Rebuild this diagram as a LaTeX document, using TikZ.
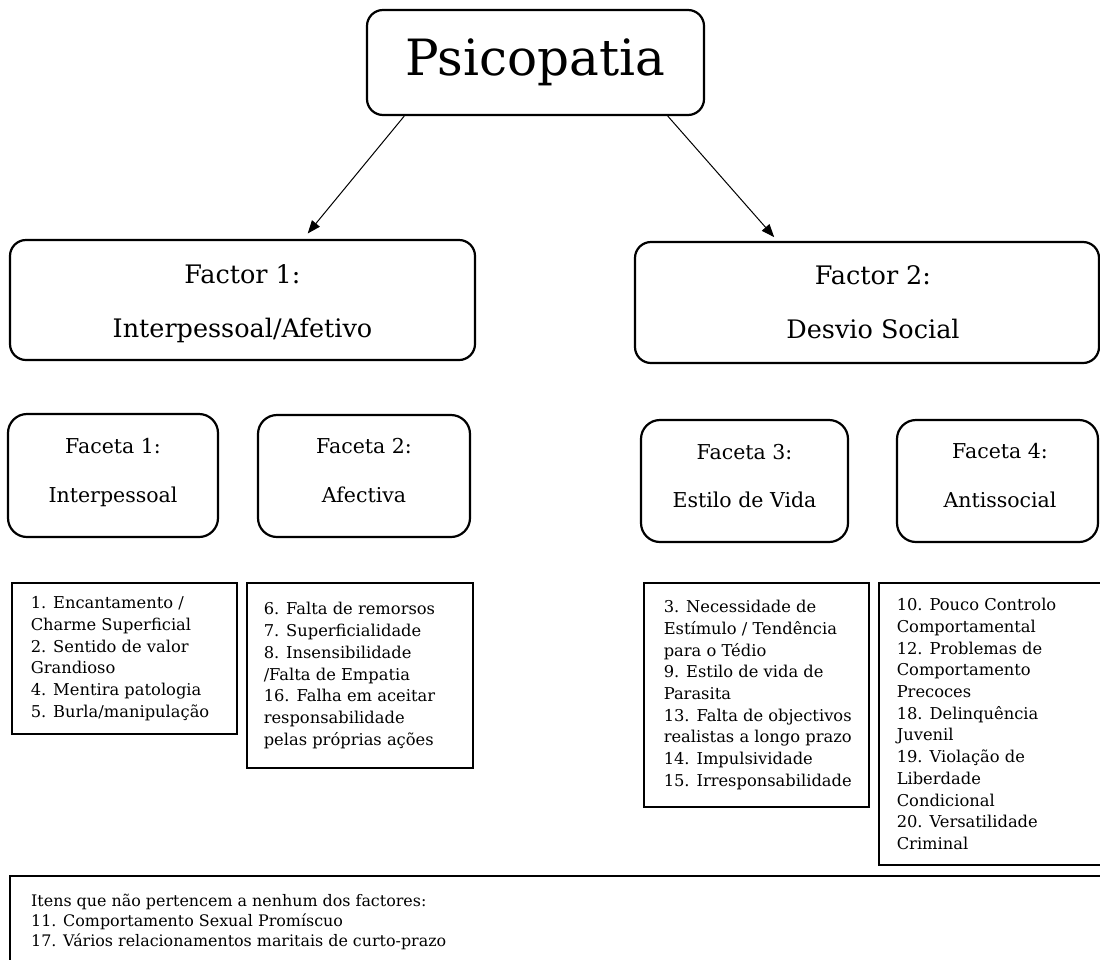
\documentclass[tikz,border=0pt]{standalone}
\usepackage{fontspec}
\setmainfont{DejaVu Serif}
\usetikzlibrary{arrows.meta,calc}
\begin{document}
\begin{tikzpicture}[x=1pt,y=-1pt,
  rbox/.style={draw=black, line width=2.2pt, rounded corners=16pt, inner sep=0pt},
  lbox/.style={draw=black, line width=2.9pt, inner sep=0pt},
  ttl/.style={inner sep=0pt, anchor=base, font=\fontsize{25.5}{28}\selectfont},
  ftl/.style={inner sep=0pt, anchor=base, font=\fontsize{20.5}{24}\selectfont},
  ltxt/.style={inner sep=0pt, anchor=west, align=left, font=\fontsize{16.3}{21.7}\selectfont},
  arr/.style={line width=1pt, -{Triangle[length=13pt,width=10pt]}}
]
\useasboundingbox (0,0) rectangle (1100,959);
\clip (0,0) rectangle (1100,959);

% top
\node[rbox, minimum width=337, minimum height=105, font=\fontsize{50}{52}\selectfont] (psi) at (535.5,62.5) {Psicopatia};

% factors
\node[rbox, minimum width=465, minimum height=120] (f1) at (242.5,300) {};
\node[ttl] (f1a) at (242.5,283) {Factor 1:};
\node[ttl] (f1b) at (242.5,337) {Interpessoal/Afetivo};

\node[rbox, minimum width=464, minimum height=121] (f2) at (867,302.5) {};
\node[ttl] (f2a) at (873,284) {Factor 2:};
\node[ttl] (f2b) at (873,338) {Desvio Social};

% arrows
\draw[arr, shorten >=7pt] ($(psi.south west)!0.113!(psi.south east)$) -- ($(f1.north west)!0.63!(f1.north east)$);
\draw[arr, shorten >=5pt] ($(psi.south west)!0.89!(psi.south east)$) -- ($(f2.north west)!0.308!(f2.north east)$);

% facets
\node[rbox, rounded corners=19pt, minimum width=210, minimum height=123] (fa1) at (113,475.5) {};
\node[ftl] (fa1a) at (113,453) {Faceta 1:};
\node[ftl] (fa1b) at (113,502) {Interpessoal};

\node[rbox, rounded corners=19pt, minimum width=212, minimum height=122] (fa2) at (364,476) {};
\node[ftl] (fa2a) at (364,453) {Faceta 2:};
\node[ftl] (fa2b) at (364,502) {Afectiva};

\node[rbox, rounded corners=19pt, minimum width=207, minimum height=122] (fa3) at (744.5,481) {};
\node[ftl] (fa3a) at (744.5,459) {Faceta 3:};
\node[ftl] (fa3b) at (744.5,507) {Estilo de Vida};

\node[rbox, rounded corners=19pt, minimum width=201, minimum height=122] (fa4) at (997.5,481) {};
\node[ftl] (fa4a) at (1000,458) {Faceta 4:};
\node[ftl] (fa4b) at (1000,507) {Antissocial};

% item lists
\node[lbox, minimum width=225, minimum height=151] (lb1) at (124.5,658.5) {};
\node[ltxt] (lt1) at ($(lb1.west)+(20,0)$) {1. Encantamento /\\Charme Superficial\\2. Sentido de valor\\Grandioso\\4. Mentira patologia\\5. Burla/manipulação};

\node[lbox, minimum width=226, minimum height=185] (lb2) at (360,675.5) {};
\node[ltxt] (lt2) at ($(lb2.west)+(18,0)$) {6. Falta de remorsos\\7. Superficialidade\\8. Insensibilidade\\/Falta de Empatia\\16. Falha em aceitar\\responsabilidade\\pelas próprias ações};

\node[lbox, minimum width=225, minimum height=224] (lb3) at (756.5,695) {};
\node[ltxt] (lt3) at ($(lb3.west)+(21,0)$) {3. Necessidade de\\Estímulo / Tendência\\para o Tédio\\9. Estilo de vida de\\Parasita\\13. Falta de objectivos\\realistas a longo prazo\\14. Impulsividade\\15. Irresponsabilidade};

\node[lbox, minimum width=241, minimum height=282] (lb4) at (999.5,724) {};
\node[ltxt] (lt4) at ($(lb4.west)+(19,0)$) {10. Pouco Controlo\\Comportamental\\12. Problemas de\\Comportamento\\Precoces\\18. Delinquência\\Juvenil\\19. Violação de\\Liberdade\\Condicional\\20. Versatilidade\\Criminal};

% bottom
\node[lbox, minimum width=1110, minimum height=99] (lb5) at (565,925.5) {};
\node[ltxt, font=\fontsize{15.9}{20}\selectfont] (lt5) at (31,922) {Itens que não pertencem a nenhum dos factores:\\11. Comportamento Sexual Promíscuo\\17. Vários relacionamentos maritais de curto-prazo};
\end{tikzpicture}
\end{document}
